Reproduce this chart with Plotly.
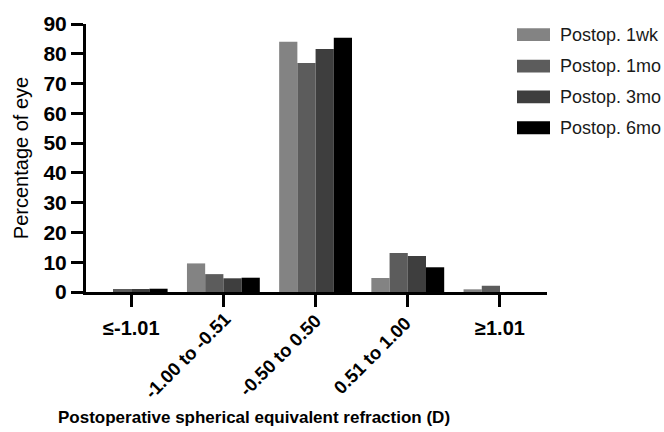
import plotly.graph_objects as go

categories = ["≤-1.01", "-1.00 to -0.51", "-0.50 to 0.50", "0.51 to 1.00", "≥1.01"]
series_names = ["Postop. 1wk", "Postop. 1mo", "Postop. 3mo", "Postop. 6mo"]
wk1 = [0.0, 9.6, 84.0, 4.7, 0.9]
mo1 = [1.0, 6.0, 76.9, 13.1, 2.1]
mo3 = [1.0, 4.6, 81.6, 12.1, 0.0]
mo6 = [1.1, 4.8, 85.4, 8.3, 0.0]
series_values = [wk1, mo1, mo3, mo6]
colors = ["#838383", "#5c5c5c", "#3e3e3e", "#000000"]
y_ticks = [0, 10, 20, 30, 40, 50, 60, 70, 80, 90]

FONT = "Liberation Sans, Arial, sans-serif"

L, R, T, B = 86, 117, 20, 140
W, H = 664, 432
pw, ph = W - L - R, H - T - B

def px_x(p):
    return (p - L) / pw

def px_y(p):
    return (H - B - p) / ph

fig = go.Figure()
for name, vals, col in zip(series_names, series_values, colors):
    fig.add_trace(go.Bar(x=categories, y=vals, name=name, marker_color=col,
                         marker_line_width=0, showlegend=False))

annotations = []
# category labels
for c in categories:
    if " to " in c:
        annotations.append(dict(x=c, y=0, xref="x", yref="y", text=c, showarrow=False,
                                textangle=-45, xanchor="center", yanchor="middle",
                                xshift=-36, yshift=-63,
                                font=dict(family=FONT, size=18.5, color="black", weight="bold")))
    else:
        annotations.append(dict(x=c, y=0, xref="x", yref="y", text=c, showarrow=False,
                                xanchor="center", yanchor="middle", yshift=-36,
                                font=dict(family=FONT, size=20, color="black", weight="bold")))
# x title
annotations.append(dict(x=px_x(254), y=px_y(419), xref="paper", yref="paper",
                        text="Postoperative spherical equivalent refraction (D)", showarrow=False,
                        xanchor="center", yanchor="middle",
                        font=dict(family=FONT, size=17, color="black", weight="bold")))

shapes = []
centers = [30.7, 62.7, 94.0, 125.3]
for name, col, yc in zip(series_names, colors, centers):
    shapes.append(dict(type="rect", xref="paper", yref="paper",
                       x0=px_x(517), x1=px_x(550), y0=px_y(yc + 6.5), y1=px_y(yc - 6.5),
                       fillcolor=col, line=dict(width=0)))
    annotations.append(dict(x=px_x(558), y=px_y(yc), xref="paper", yref="paper", text=name,
                            showarrow=False, xanchor="left", yanchor="middle",
                            font=dict(family=FONT, size=18, color="#1a1a1a")))

fig.update_layout(
    width=W, height=H,
    margin=dict(l=L, r=R, t=T, b=B, pad=0),
    paper_bgcolor="white", plot_bgcolor="white",
    barmode="group", bargap=0.21, bargroupgap=0,
    annotations=annotations, shapes=shapes,
    showlegend=False,
)
fig.update_xaxes(range=[-0.49, 4.51], showgrid=False, zeroline=False,
                 showline=True, linecolor="black", linewidth=3,
                 ticks="outside", ticklen=12, tickwidth=3, tickcolor="black",
                 showticklabels=False)
fig.update_yaxes(range=[0, 90], tickvals=y_ticks, showgrid=False, zeroline=False,
                 showline=True, linecolor="black", linewidth=3,
                 ticks="outside", ticklen=12, tickwidth=3, tickcolor="black",
                 tickfont=dict(family=FONT, size=21, color="black", weight="bold"),
                 title=dict(text="Percentage of eye", standoff=10,
                            font=dict(family=FONT, size=20, color="black")))

fig.write_html("out.html")
